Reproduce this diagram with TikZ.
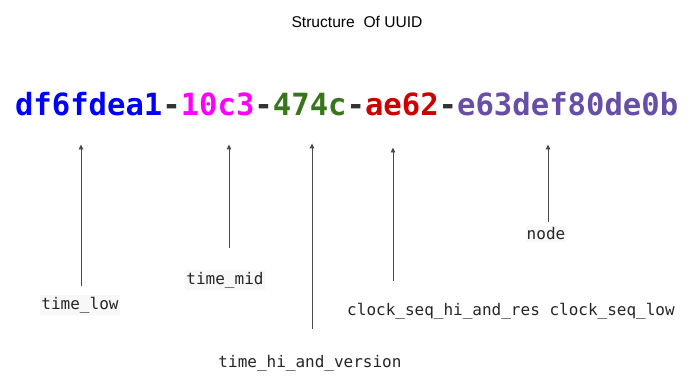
\documentclass[tikz,border=0pt]{standalone}
\usepackage{fontspec}
\setmainfont{Liberation Sans}
\newfontfamily\uuidfont{DejaVu Sans Mono}
\usetikzlibrary{positioning, arrows.meta, calc}
\definecolor{lowcolor}{HTML}{0000ff}
\definecolor{midcolor}{HTML}{ff00ff}
\definecolor{hicolor}{HTML}{38761d}
\definecolor{clockcolor}{HTML}{cc0000}
\definecolor{nodecolor}{HTML}{674ea7}
\definecolor{dashcolor}{HTML}{333333}
\definecolor{labelfill}{HTML}{f8f8f8}
\definecolor{arrowline}{HTML}{4a4a4a}
\tikzset{
    part/.style={
        text=#1, inner sep=0pt, outer sep=0pt, anchor=base west,
        font=\uuidfont\bfseries\fontsize{30.6}{36}\selectfont,
    },
    fieldlabel/.style={
        fill=#1, inner xsep=1pt, inner ysep=2pt,
        font=\uuidfont\fontsize{16}{19}\selectfont, text=black!85,
    },
    fieldlabel/.default=white,
    arrow/.style={
        -{Triangle[length=5pt, width=4.5pt]}, line width=0.9pt, color=arrowline,
    },
}

\begin{document}
\begin{tikzpicture}[x=1pt, y=-1pt]
\useasboundingbox (0,0) rectangle (698,385);

% ── Title ────────────────────────────────────────────────────
\node[font=\fontsize{15.6}{18}\selectfont] (title) at (357,22) {Structure\ \ Of UUID};

% ── UUID string, one node per field ──────────────────────────
\node[part=lowcolor] (tlow) at (15,116) {df6fdea1};
\node[part=dashcolor] (d1) at (tlow.base east) {-};
\node[part=midcolor] (tmid) at (d1.base east) {10c3};
\node[part=dashcolor] (d2) at (tmid.base east) {-};
\node[part=hicolor] (thi) at (d2.base east) {474c};
\node[part=dashcolor] (d3) at (thi.base east) {-};
\node[part=clockcolor] (cseq) at (d3.base east) {ae62};
\node[part=dashcolor] (d4) at (cseq.base east) {-};
\node[part=nodecolor] (nd) at (d4.base east) {e63def80de0b};

% ── Field labels ─────────────────────────────────────────────
\node[fieldlabel=labelfill] (lbl_tlow) at (80,305) {time\_low};
\node[fieldlabel=labelfill] (lbl_tmid) at (225,280) {time\_mid};
\node[fieldlabel] (lbl_thi) at (310,363) {time\_hi\_and\_version};
\node[fieldlabel] (lbl_cseq) at (511,311) {clock\_seq\_hi\_and\_res clock\_seq\_low};
\node[fieldlabel=labelfill] (lbl_nd) at (546,234) {node};

% arrow tails (lines stop short of the labels)
\coordinate (a_tlow) at (81,286);
\coordinate (a_tmid) at (229,248);
\coordinate (a_thi) at (312,329);
\coordinate (a_cseq) at (393,281);
\coordinate (a_nd) at (548,222);

% ── Arrows up to the fields ──────────────────────────────────
\draw[arrow, shorten >=28pt] (a_tlow) -- (a_tlow |- tlow.south);
\draw[arrow, shorten >=28pt] (a_tmid) -- (a_tmid |- tmid.south);
\draw[arrow, shorten >=27pt] (a_thi) -- (a_thi |- thi.south);
\draw[arrow, shorten >=31pt] (a_cseq) -- (a_cseq |- cseq.south);
\draw[arrow, shorten >=28pt] (a_nd) -- (a_nd |- nd.south);

\end{tikzpicture}
\end{document}
